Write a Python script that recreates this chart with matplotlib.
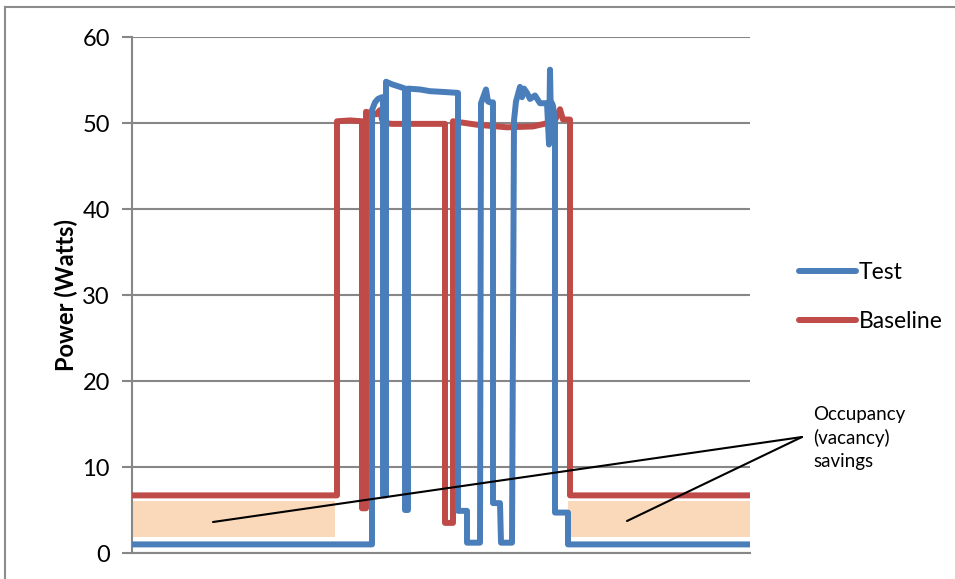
import matplotlib
matplotlib.use("Agg")
import matplotlib.pyplot as plt
from matplotlib.lines import Line2D
from matplotlib.patches import Rectangle

plt.rcParams['font.family'] = ['Lato', 'DejaVu Sans']

# time index (arbitrary sample units) and power values
test_t = [0, 240, 240, 243, 246, 250, 251, 251, 254, 254, 260, 268, 273, 273, 276, 276,
          288, 298, 313, 326, 326, 335, 335, 348, 349, 354, 356, 358, 361, 361, 368, 369,
          380, 382, 384, 388, 390, 392, 395, 398, 403, 408, 415, 417, 418, 419, 420, 421,
          423, 423, 436, 436, 618]
test_w = [1.0, 1.0, 51.5, 52.4, 52.8, 53.0, 53.0, 6.7, 6.7, 54.8, 54.5, 54.2, 54.0, 5.0, 5.0, 54.0,
          53.9, 53.7, 53.6, 53.5, 4.9, 4.9, 1.2, 1.2, 52.3, 53.9, 52.5, 52.4, 52.4, 5.8, 5.8, 1.2,
          1.2, 50.3, 52.5, 54.2, 53.0, 54.0, 53.5, 52.8, 53.2, 52.3, 52.3, 47.5, 56.2, 50.0, 52.3, 52.0,
          50.0, 4.7, 4.7, 1.0, 1.0]

base_t = [0, 205, 205, 218, 230, 230, 234, 234, 244, 248, 250, 252, 260, 285, 313, 313,
          321, 321, 345, 375, 401, 416, 423, 428, 431, 436, 438, 438, 618]
base_w = [6.7, 6.7, 50.2, 50.3, 50.2, 5.2, 5.2, 51.3, 51.0, 51.5, 50.4, 50.0, 49.9, 49.9, 49.9, 3.5,
          3.5, 50.2, 49.8, 49.5, 49.6, 50.0, 50.3, 51.6, 50.4, 50.4, 50.4, 6.7, 6.7]

# shaded "savings" regions (start, end, low, high)
save_regions = [(1, 203, 1.9, 6.1), (436, 619, 1.9, 6.1)]

yticks = [0, 10, 20, 30, 40, 50, 60]

W, H = 955, 579
fig = plt.figure(figsize=(W / 100, H / 100), dpi=100)
ax = fig.add_axes([132 / W, 1 - 553 / H, (750 - 132) / W, (553 - 37) / H])

grid_c = '#878787'
for x0, x1, lo, hi in save_regions:
    ax.add_patch(Rectangle((x0, lo), x1 - x0, hi - lo, facecolor='#FAD9BA',
                           edgecolor='none', zorder=1))

l_test, = ax.plot(test_t, test_w, color='#4A7EBB', lw=4.3, solid_joinstyle='round',
                  solid_capstyle='round', zorder=4, label='Test')
l_base, = ax.plot(base_t, base_w, color='#BE4B48', lw=4.3, solid_joinstyle='round',
                  solid_capstyle='round', zorder=3, label='Baseline')

ax.set_xlim(0, 618)
ax.set_ylim(0, 60)
ax.set_yticks(yticks)
ax.set_xticks([])
ax.yaxis.grid(True, color=grid_c, lw=1.5)
ax.set_axisbelow(True)
for s in ['top', 'right']:
    ax.spines[s].set_visible(False)
for s in ['left', 'bottom']:
    ax.spines[s].set_color(grid_c)
    ax.spines[s].set_linewidth(1.5)
ax.tick_params(axis='y', length=7, width=1.5, color=grid_c, labelsize=17, pad=9)
ax.set_ylabel('Power (Watts)', fontsize=17, fontweight='bold', labelpad=3)

leg = fig.legend(handles=[l_test, l_base], loc='upper left',
                 bbox_to_anchor=(788 / W, 1 - 251 / H), frameon=False, fontsize=16.5,
                 handlelength=2.45, handletextpad=0.15, labelspacing=1.22, borderpad=0)

# annotation lines
def px(xp, yp):
    return (xp - 132), (553 - yp) / 8.6

hub = px(802, 437)
for tgt in [px(213, 522), px(627, 521)]:
    ax.annotate('', xy=tgt, xytext=hub, annotation_clip=False,
                arrowprops=dict(arrowstyle='-', color='black', lw=1.5,
                                shrinkA=0, shrinkB=0), zorder=6)
fig.text(813 / W, 1 - 406 / H, 'Occupancy\n(vacancy)\nsavings', fontsize=13.5,
         va='top', ha='left', linespacing=1.42)

# chart border
fig.add_artist(Line2D([5 / W, 5 / W], [0, 1 - 7 / H], transform=fig.transFigure,
                      color='#8C8C8C', lw=1.5))
fig.add_artist(Line2D([5 / W, 1], [1 - 7 / H, 1 - 7 / H], transform=fig.transFigure,
                      color='#8C8C8C', lw=1.5))

fig.savefig('out.png', dpi=100)
